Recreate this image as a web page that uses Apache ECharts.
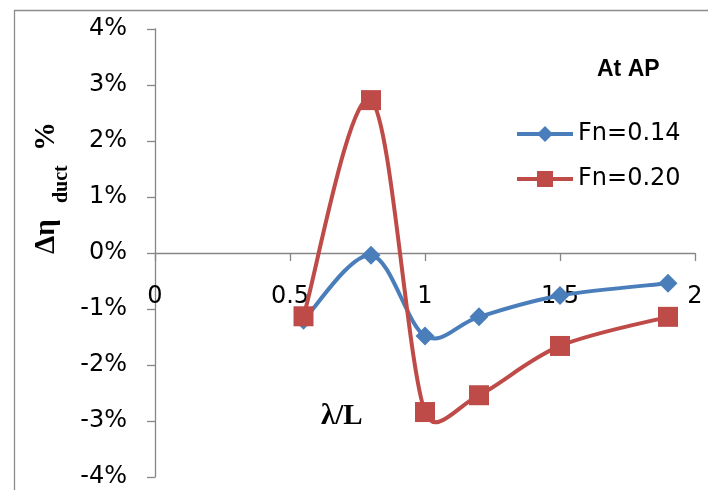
<!DOCTYPE html>
<html>
<head>
<meta charset="utf-8">
<script src="https://cdn.jsdelivr.net/npm/echarts@6/dist/echarts.min.js"></script>
<style>
  html, body { margin: 0; padding: 0; background: #fff; }
  #chart { width: 708px; height: 490px; }
</style>
</head>
<body>
<div id="chart"></div>
<script>
// Wavelength ratio λ/L
const lambdaRatio = [0.55, 0.8, 1.0, 1.2, 1.5, 1.9];
// Change in duct efficiency (%), Fn = 0.14
const fn014 = [-1.2, -0.04, -1.48, -1.14, -0.76, -0.54];
// Change in duct efficiency (%), Fn = 0.20
const fn020 = [-1.13, 2.73, -2.84, -2.54, -1.66, -1.14];
// Axis tick labels
const xTicks = [0, 0.5, 1, 1.5, 2];
const yTicks = [-4, -3, -2, -1, 0, 1, 2, 3, 4];

const BLUE = '#4A7EBB';
const RED = '#BE4B48';
const AXIS = '#868686';
const FONT = 'DejaVu Sans';
const SERIF = 'Liberation Serif';

const GRID_TOP = 29, GRID_BOTTOM = 13, CHART_H = 490;
const plotH = CHART_H - GRID_TOP - GRID_BOTTOM;
// the horizontal axis sits on the 0% line; shift it up from the bottom edge
const zeroOffset = plotH * (0 - yTicks[0]) / (yTicks[yTicks.length - 1] - yTicks[0]);

const pairs = (xs, ys) => xs.map((x, i) => [x, ys[i]]);

// Smoothed curve through all points (cubic Bézier, tangent = (next - prev) / 6,
// handle length limited to half of the segment), in pixel space via api.coord.
function smoothCurve(xs, ys, color) {
  return function (params, api) {
    if (params.dataIndex !== 0) return null;
    const p = xs.map((x, i) => api.coord([x, ys[i]]));
    const n = p.length;
    const handle = (i, dir, segLen) => {
      const prev = p[Math.max(i - 1, 0)];
      const next = p[Math.min(i + 1, n - 1)];
      let dx = (next[0] - prev[0]) / 6, dy = (next[1] - prev[1]) / 6;
      const len = Math.hypot(dx, dy);
      const maxLen = segLen / 2;
      if (len > maxLen && len > 0) { dx *= maxLen / len; dy *= maxLen / len; }
      return [p[i][0] + dir * dx, p[i][1] + dir * dy];
    };
    const children = [];
    for (let i = 0; i < n - 1; i++) {
      const seg = Math.hypot(p[i + 1][0] - p[i][0], p[i + 1][1] - p[i][1]);
      const c1 = handle(i, 1, seg);
      const c2 = handle(i + 1, -1, seg);
      children.push({
        type: 'bezierCurve',
        shape: {
          x1: p[i][0], y1: p[i][1],
          cpx1: c1[0], cpy1: c1[1],
          cpx2: c2[0], cpy2: c2[1],
          x2: p[i + 1][0], y2: p[i + 1][1]
        },
        style: { stroke: color, lineWidth: 4, fill: null, lineCap: 'round', lineJoin: 'round' }
      });
    }
    return { type: 'group', children };
  };
}

const chart = echarts.init(document.getElementById('chart'), null, { renderer: 'canvas' });

chart.setOption({
  animation: false,
  backgroundColor: '#fff',
  grid: { left: 155, right: 13, top: GRID_TOP, bottom: GRID_BOTTOM, containLabel: false, outerBoundsMode: 'none' },
  xAxis: {
    type: 'value',
    position: 'bottom',
    offset: -zeroOffset,
    min: xTicks[0],
    max: xTicks[xTicks.length - 1],
    interval: 0.5,
    axisLine: { onZero: false, lineStyle: { color: AXIS, width: 1.3 } },
    axisTick: { show: true, length: 8, lineStyle: { color: AXIS, width: 1.3 } },
    axisLabel: {
      margin: 32,
      fontFamily: FONT,
      fontSize: 24,
      color: '#000',
      formatter: v => String(v)
    },
    splitLine: { show: false }
  },
  yAxis: {
    type: 'value',
    min: yTicks[0],
    max: yTicks[yTicks.length - 1],
    interval: 1,
    axisLine: { show: true, onZero: false, lineStyle: { color: AXIS, width: 1.3 } },
    axisTick: { show: true, length: 8, lineStyle: { color: AXIS, width: 1.3 } },
    axisLabel: {
      margin: 28,
      fontFamily: FONT,
      fontSize: 24,
      color: '#000',
      formatter: v => v + '%'
    },
    splitLine: { show: false }
  },
  legend: {
    left: 515,
    top: 122,
    padding: 0,
    orient: 'vertical',
    itemWidth: 56,
    itemHeight: 20,
    itemGap: 21,
    lineStyle: { width: 4, opacity: 1 },
    textStyle: { fontFamily: FONT, fontSize: 24, color: '#000' },
    data: ['Fn=0.14', 'Fn=0.20']
  },
  graphic: [
    {
      type: 'rect',
      left: 12, top: 8,
      shape: { width: 720, height: 500 },
      style: { fill: 'none', stroke: '#8C8C8C', lineWidth: 1.3 },
      silent: true, z: -1
    },
    {
      type: 'text',
      left: 597, top: 58,
      style: { text: 'At AP', font: 'bold 23px "Liberation Sans"', fill: '#000' }
    },
    {
      type: 'text',
      left: 321, top: 402,
      style: { text: 'λ/L', font: 'bold 29px "Liberation Serif"', fill: '#000' }
    },
    {
      // vertical axis title: Δη with subscript "duct", followed by %
      type: 'group',
      x: 52, y: 190,
      rotation: Math.PI / 2,
      children: [
        { type: 'text', x: -64, y: -5, style: { text: 'Δη', font: 'bold 29px "' + SERIF + '"', fill: '#000', verticalAlign: 'middle', align: 'left' } },
        { type: 'text', x: -13, y: 10, style: { text: 'duct', font: 'bold 20px "' + SERIF + '"', fill: '#000', verticalAlign: 'middle', align: 'left' } },
        { type: 'text', x: 39, y: -5, style: { text: '%', font: 'bold 29px "' + SERIF + '"', fill: '#000', verticalAlign: 'middle', align: 'left' } }
      ]
    }
  ],
  series: [
    {
      type: 'custom',
      coordinateSystem: 'cartesian2d',
      data: pairs(lambdaRatio, fn014),
      renderItem: smoothCurve(lambdaRatio, fn014, BLUE),
      silent: true,
      z: 1
    },
    {
      type: 'custom',
      coordinateSystem: 'cartesian2d',
      data: pairs(lambdaRatio, fn020),
      renderItem: smoothCurve(lambdaRatio, fn020, RED),
      silent: true,
      z: 2
    },
    {
      name: 'Fn=0.14',
      type: 'line',
      data: pairs(lambdaRatio, fn014),
      symbol: 'diamond',
      symbolSize: 19,
      lineStyle: { color: BLUE, width: 4, opacity: 0 },
      itemStyle: { color: BLUE },
      z: 3
    },
    {
      name: 'Fn=0.20',
      type: 'line',
      data: pairs(lambdaRatio, fn020),
      symbol: 'rect',
      symbolSize: 20,
      lineStyle: { color: RED, width: 4, opacity: 0 },
      itemStyle: { color: RED },
      z: 4
    }
  ]
});
</script>
</body>
</html>
